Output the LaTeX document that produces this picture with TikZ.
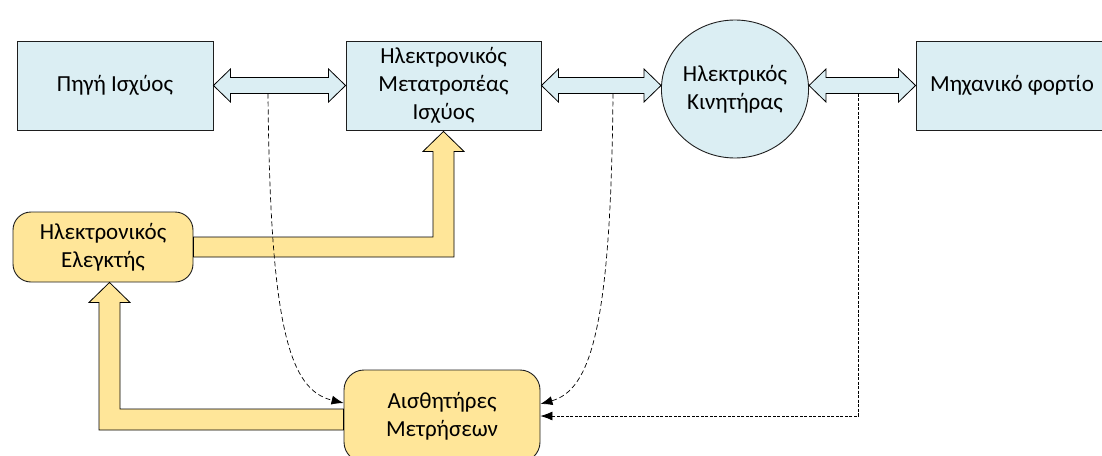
\documentclass[tikz,border=0pt]{standalone}
\usepackage{fontspec}
\setmainfont{Carlito}
\usetikzlibrary{shapes.geometric,calc,arrows.meta}

\definecolor{boxblue}{RGB}{219,238,243}
\definecolor{boxyellow}{RGB}{255,230,153}
\definecolor{edge}{RGB}{30,30,30}

\tikzset{
  lbl/.style={align=center, font=\fontsize{23}{28}\selectfont, text=black, inner sep=0pt},
  bluebox/.style={lbl, draw=edge, line width=0.9pt, fill=boxblue, rectangle},
  yellowbox/.style={lbl, draw=edge, line width=0.9pt, fill=boxyellow, rectangle, rounded corners=19pt},
  bluearrow/.style={draw=black, line width=0.8pt, fill=boxblue, line join=miter},
  yellowarrow/.style={draw=black, line width=0.8pt, fill=boxyellow, line join=miter},
  sigline/.style={draw=black, line width=0.7pt, dash pattern=on 5pt off 3pt, -{Latex[length=12pt,width=9pt]}},
  sigfine/.style={draw=black, line width=0.7pt, dash pattern=on 3pt off 1.5pt, -{Latex[length=12pt,width=9pt]}}
}

% two-headed power-flow arrow from anchor #1 to anchor #2, at the height of anchor #3
\newcommand{\dblarrow}[3]{%
  \draw[bluearrow] let \p1=(#1), \p2=(#2), \p3=(#3) in
    (\x1,\y3) -- ({\x1+17pt},{\y3+16.5pt}) -- ({\x1+17pt},{\y3+8pt})
    -- ({\x2-17pt},{\y3+8pt}) -- ({\x2-17pt},{\y3+16.5pt}) -- (\x2,\y3)
    -- ({\x2-17pt},{\y3-16.5pt}) -- ({\x2-17pt},{\y3-8pt})
    -- ({\x1+17pt},{\y3-8pt}) -- ({\x1+17pt},{\y3-16.5pt}) -- cycle;}

\begin{document}
\begin{tikzpicture}[x=1pt,y=-1pt]
\useasboundingbox (0,0) rectangle (1102,455);
\clip (0,0) rectangle (1102,455);

% blocks
\node[bluebox, minimum width=196pt, minimum height=89pt] (src) at (115,85.5) {Πηγή Ισχύος};
\node[bluebox, minimum width=195pt, minimum height=89pt] (conv) at (443.5,85.5) {Ηλεκτρονικός\\Μετατροπέας\\Ισχύος};
\node[lbl, ellipse, draw=edge, line width=0.9pt, fill=boxblue, minimum width=134pt, minimum height=138pt] (mot) at (735,89) {Ηλεκτρικός\\Κινητήρας};
\node[bluebox, minimum width=192pt, minimum height=89pt] (load) at (1012,85.5) {Μηχανικό φορτίο};
\node[yellowbox, minimum width=180pt, minimum height=70pt, rounded corners=18pt] (ctrl) at (103,247) {Ηλεκτρονικός\\Ελεγκτής};
\node[yellowbox, minimum width=196pt, minimum height=92pt, rounded corners=20pt] (sens) at (442,416) {Αισθητήρες\\Μετρήσεων};

% power flow
\dblarrow{src.east}{conv.west}{conv.west}
\dblarrow{conv.east}{mot.west}{conv.east}
\dblarrow{mot.east}{load.west}{load.west}

% control signal: controller -> converter
\draw[yellowarrow] let \p1=(ctrl.east), \p2=(conv.south) in
  (\x1,{\y1+10pt}) -- ({\x2-10.5pt},{\y1+10pt}) -- ({\x2-10.5pt},{\y2-21pt})
  -- ({\x2-20.5pt},{\y2-21pt}) -- (\x2,{\y2-1pt}) -- ({\x2+20.5pt},{\y2-21pt})
  -- ({\x2+10.5pt},{\y2-21pt}) -- ({\x2+10.5pt},{\y1-10pt}) -- (\x1,{\y1-10pt}) -- cycle;

% feedback: sensors -> controller
\draw[yellowarrow] let \p1=($(sens.west)+(0,3.5)$), \p2=($(ctrl.south)+(6.5,0)$) in
  (\x1,{\y1+10.5pt}) -- ({\x2+10.5pt},{\y1+10.5pt}) -- ({\x2+10.5pt},{\y2-20pt})
  -- ({\x2+20.5pt},{\y2-20pt}) -- (\x2,\y2) -- ({\x2-20.5pt},{\y2-20pt})
  -- ({\x2-10.5pt},{\y2-20pt}) -- ({\x2-10.5pt},{\y1-10.5pt}) -- (\x1,{\y1-10.5pt}) -- cycle;

% measurement taps
\coordinate (d1) at (268,93.5);
\coordinate (d2) at (613,93.5);
\coordinate (d3) at (858,93.5);
\coordinate (s1) at ($(sens.west)+(0,-13)$);
\coordinate (s2) at ($(sens.east)+(0,-12)$);

\draw[sigline] (d1) .. controls (270,330) and (290,390) .. (s1);
\draw[sigline] (d2) .. controls (611,330) and (590,390) .. (s2);
\draw[sigfine] (d3) |- (sens.east);
\end{tikzpicture}
\end{document}
